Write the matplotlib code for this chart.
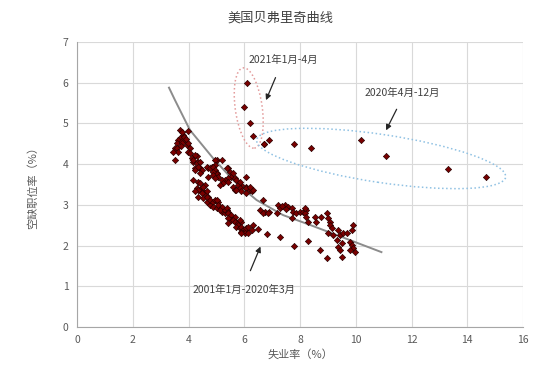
import numpy as np
import matplotlib.pyplot as plt
from matplotlib.patches import Ellipse
from matplotlib.transforms import Affine2D

plt.rcParams['font.family'] = ['Noto Sans CJK SC', 'DejaVu Sans']

# 2001-01 .. 2020-03 (unemployment %, job openings rate %)
u_hist = [3.69, 3.99, 3.81, 3.69, 3.63, 3.87, 3.77, 3.57, 3.75, 3.93, 3.99, 3.51, 3.60, 4.05,
          3.63, 3.45, 3.99, 4.05, 4.11, 3.51, 4.29, 4.17, 4.35, 4.23, 4.41, 3.85, 3.75, 3.90, 3.72,
          4.23, 4.17, 4.29, 4.35, 4.23, 4.41, 4.47, 4.41, 5.01, 5.19, 4.95, 4.71, 4.83, 4.95, 4.65,
          4.77, 4.89, 4.95, 5.01, 4.89, 5.01, 5.07, 4.89, 5.42, 4.71, 5.37, 5.48, 5.54, 5.42, 5.60,
          5.66, 5.30, 5.42, 5.19, 5.24, 5.13, 4.95, 6.08, 5.90, 5.72, 5.78, 5.60, 5.66, 5.84, 5.90,
          5.84, 6.08, 6.08, 6.08, 6.20, 6.26, 6.32, 6.20, 5.72,
          4.17, 4.35, 4.29, 4.41, 4.53, 4.47, 4.59, 4.41, 4.59, 4.53, 4.35, 4.23, 4.47, 4.65, 4.35,
          4.53, 4.71, 4.65, 4.77, 4.65, 4.77, 4.89, 4.95, 5.07, 5.01, 4.89, 5.01, 5.13, 5.07, 5.19,
          5.19, 5.30, 5.37, 5.13, 5.30, 5.37, 5.42, 5.42, 5.54, 5.66, 5.54, 5.42, 5.42, 5.60, 5.72,
          5.66, 5.78, 5.90, 5.84, 5.78, 5.72, 5.84, 5.90, 5.96, 6.08, 6.08, 5.90, 6.02, 5.90, 6.14,
          6.14, 6.26, 6.32, 6.50, 6.80, 7.28,
          6.68, 6.56, 6.74, 6.89, 6.68, 6.86, 7.16, 7.22, 7.28, 7.46, 7.57, 7.70, 7.75, 7.87, 7.99,
          8.11, 8.23, 8.17, 8.17, 8.23, 7.70, 8.29, 8.53, 8.77, 8.59, 7.36, 7.50,
          8.95, 9.01, 9.07, 9.07, 9.13, 9.01, 9.19, 9.37, 9.43, 9.55, 9.67, 9.85, 9.91, 9.31, 9.49,
          9.37, 9.43, 9.78, 9.85, 9.91, 9.78, 9.96, 9.49,
          7.79, 8.29, 8.71, 8.98]
v_hist = [4.84, 4.82, 4.72, 4.64, 4.59, 4.59, 4.56, 4.51, 4.51, 4.47, 4.51, 4.39, 4.40, 4.39,
          4.31, 4.31, 4.31, 4.27, 4.14, 4.10, 4.21, 4.06, 4.06, 3.90, 3.90, 4.68, 4.78, 4.62, 4.45,
          4.23, 4.10, 4.02, 3.94, 3.86, 4.06, 3.86, 3.78, 4.10, 4.10, 4.10, 3.90, 3.94, 3.98, 3.94,
          3.90, 3.94, 3.86, 3.78, 3.82, 3.75, 3.69, 3.73, 3.90, 3.69, 3.90, 3.82, 3.69, 3.65, 3.78,
          3.65, 3.61, 3.57, 3.61, 3.53, 3.49, 3.65, 3.69, 3.49, 3.61, 3.49, 3.45, 3.37, 3.41, 3.33,
          3.57, 3.45, 3.41, 3.28, 3.37, 3.33, 3.37, 3.45, 3.37,
          3.61, 3.57, 3.41, 3.37, 3.45, 3.33, 3.28, 3.53, 3.49, 3.45, 3.37, 3.33, 3.28, 3.33, 3.20,
          3.16, 3.20, 3.08, 3.00, 3.20, 3.12, 3.08, 3.12, 3.08, 3.12, 2.96, 2.92, 2.96, 3.00, 2.96,
          2.83, 2.79, 2.87, 2.87, 2.87, 2.92, 2.83, 2.79, 2.75, 2.71, 2.63, 2.67, 2.55, 2.63, 2.59,
          2.59, 2.55, 2.59, 2.63, 2.51, 2.46, 2.42, 2.46, 2.38, 2.38, 2.42, 2.34, 2.30, 2.30, 2.30,
          2.46, 2.38, 2.51, 2.40, 2.28, 2.20,
          3.12, 2.87, 2.82, 2.82, 2.79, 2.79, 2.79, 3.00, 2.92, 3.00, 2.94, 2.92, 2.83, 2.81, 2.83,
          2.83, 2.87, 2.81, 2.92, 2.71, 2.67, 2.59, 2.71, 2.71, 2.59, 2.98, 2.90,
          2.79, 2.67, 2.59, 2.51, 2.42, 2.30, 2.26, 2.38, 2.26, 2.30, 2.30, 2.38, 2.51, 2.14, 2.06,
          1.97, 1.89, 2.10, 2.01, 1.93, 1.89, 1.85, 1.73,
          1.99, 2.11, 1.89, 1.69]

# 2020-04 .. 2020-12
u_2020 = [14.68, 13.29, 11.10, 10.20, 8.39, 7.79, 6.89, 6.70, 6.70]
v_2020 = [3.69, 3.89, 4.20, 4.59, 4.39, 4.50, 4.59, 4.50, 4.50]

# 2021-01 .. 2021-04
u_2021 = [6.30, 6.20, 6.00, 6.10]
v_2021 = [4.69, 5.00, 5.40, 6.00]

# fitted curve
trend_x = [3.30, 3.51, 4.05, 4.89, 5.60, 6.44, 7.39, 8.35, 9.31, 10.92]
trend_y = [5.88, 5.58, 4.84, 4.14, 3.61, 3.12, 2.75, 2.51, 2.26, 1.84]

fig = plt.figure(figsize=(5.5, 3.71), dpi=100)
ax = fig.add_axes([0.14, 0.1186, 0.811, 0.768])

mk = dict(marker='D', s=10, color='#7a0000', edgecolors='#2a0000', linewidths=0.5, zorder=3)
ax.scatter(u_hist, v_hist, **mk)
ax.scatter(u_2020, v_2020, **mk)
ax.scatter(u_2021, v_2021, **mk)

ax.plot(trend_x, trend_y, color='#8c8c8c', lw=1.4, zorder=2)

ax.set_xlim(0, 16)
ax.set_ylim(0, 7)
ax.set_xticks(range(0, 17, 2))
ax.set_yticks(range(0, 8))
ax.grid(color='#d9d9d9', lw=0.8)
ax.set_axisbelow(True)
for s in ['top', 'right']:
    ax.spines[s].set_visible(False)
for s in ['left', 'bottom']:
    ax.spines[s].set_color('#a6a6a6')
ax.tick_params(length=0, labelsize=7.5, colors='#595959', pad=6)

ax.set_xlabel('失业率（%）', fontsize=8, color='#595959', labelpad=3)
ax.set_ylabel('空缺职位率（%）', fontsize=8, color='#595959', labelpad=18)
fig.text(0.51, 0.951, '美国贝弗里奇曲线', ha='center', va='center', fontsize=9.5, color='#404040')

# ellipses drawn in pixel units around their data centers
sx, sy = 27.9, 40.7
def px_ellipse(cx, cy, w, h, ang, col):
    tr = Affine2D().scale(1 / sx, 1 / sy).translate(cx, cy) + ax.transData
    ax.add_patch(Ellipse((0, 0), w, h, angle=ang, fill=False, ec=col, ls=':', lw=1.1,
                         transform=tr, zorder=2))

px_ellipse(6.16, 5.38, 27, 81, 8, '#e39a9a')
px_ellipse(10.91, 4.14, 252, 48, -8.5, '#8fc1e3')

arr = dict(arrowstyle='-|>', color='#262626', lw=0.9, mutation_scale=8)
ax.annotate('', xy=(6.74, 5.51), xytext=(7.16, 6.19), arrowprops=arr)
ax.annotate('', xy=(11.04, 4.77), xytext=(11.51, 5.41), arrowprops=arr)
ax.annotate('', xy=(6.62, 2.04), xytext=(6.18, 1.32), arrowprops=arr)
ax.text(7.42, 6.56, '2021年1月-4月', ha='center', va='center', fontsize=7.5, color='#404040')
ax.text(11.68, 5.75, '2020年4月-12月', ha='center', va='center', fontsize=7.5, color='#404040')
ax.text(5.99, 0.91, '2001年1月-2020年3月', ha='center', va='center', fontsize=7.5, color='#404040')

fig.savefig('out.png', dpi=100, facecolor='white')
